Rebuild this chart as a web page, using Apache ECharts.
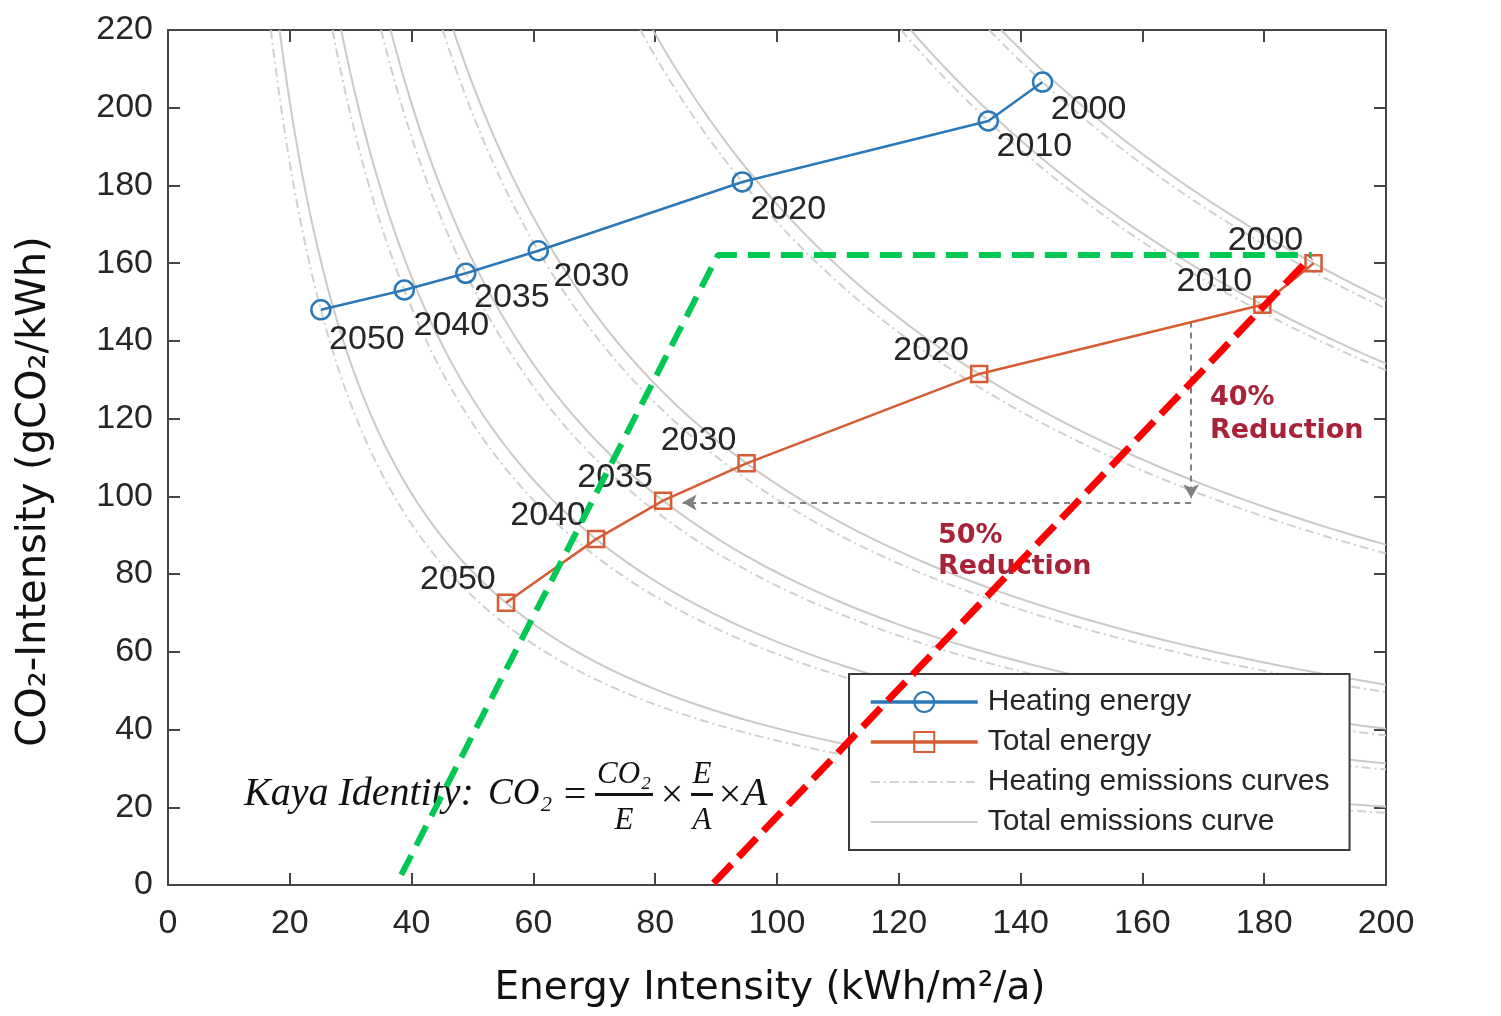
<!DOCTYPE html>
<html>
<head>
<meta charset="utf-8">
<title>Kaya identity - energy vs CO2 intensity</title>
<script src="https://cdn.jsdelivr.net/npm/echarts@6/dist/echarts.min.js"></script>
<style>
  html, body { margin: 0; padding: 0; background: #fff; }
  #chart { width: 1501px; height: 1016px; }
</style>
</head>
<body>
<div id="chart"></div>
<script>
// years written next to every point (same order for both paths)
var years = ["2000", "2010", "2020", "2030", "2035", "2040", "2050"];

// heating energy path: energy intensity (kWh/m2/a) / CO2 intensity (gCO2/kWh)
var heatingX = [143.6, 134.7, 94.3, 60.8, 48.9, 38.8, 25.1];
var heatingY = [206.6, 196.6, 180.9, 163.2, 157.4, 153.1, 148.0];

// total energy path
var totalX = [188.1, 179.7, 133.2, 95.0, 81.3, 70.3, 55.5];
var totalY = [160.0, 149.3, 131.5, 108.5, 98.9, 89.0, 72.6];

// dashed guide lines
var greenX = [38.3, 90.3, 187.8];
var greenY = [2.6, 162.1, 162.1];
var redX = [89.6, 187.6];
var redY = [0.5, 161.5];

// reduction arrows (gray dashed)
var arrowDownX = [168, 168];
var arrowDownY = [145, 99.5];
var arrowLeftX = [168, 84.5];
var arrowLeftY = [98.4, 98.4];

// axes
var xMin = 0, xMax = 200, xStep = 20;
var yMin = 0, yMax = 220, yStep = 20;

var BLUE = "#2b78b8";
var ORANGE = "#d65c33";
var TXT = "#262626";
var AXIS = "#454545";

// small per-label nudges for the heating labels (px), like the original placement
var heatingLabelNudge = [[0, 0], [0, -2], [0, 0], [7, -2], [0, -4], [1, 8], [0, 2]];

function pairs(xs, ys) {
  return xs.map(function (x, i) { return [x, ys[i]]; });
}

// emission curve: constant x*y through a given point
function isoCurve(x0, y0) {
  var c = x0 * y0;
  var start = c / yMax;
  var pts = [];
  var n = 80;
  for (var k = 0; k <= n; k++) {
    var x = start * Math.pow(xMax / start, k / n);
    pts.push([x, c / x]);
  }
  return pts;
}

var chart = echarts.init(document.getElementById("chart"));

var series = [];

// heating emissions curves (dash-dot), one through each heating point
heatingX.forEach(function (x, i) {
  series.push({
    name: "Heating emissions curves",
    type: "line",
    data: isoCurve(x, heatingY[i]),
    symbol: "none",
    silent: true,
    z: 1,
    itemStyle: { color: "rgba(0,0,0,0)", borderWidth: 0 },
    lineStyle: { color: "#d0d0d0", width: 2, type: [9, 4, 2, 4] }
  });
});

// total emissions curves (solid), one through each total point
totalX.forEach(function (x, i) {
  series.push({
    name: "Total emissions curve",
    type: "line",
    data: isoCurve(x, totalY[i]),
    symbol: "none",
    silent: true,
    z: 1,
    itemStyle: { color: "rgba(0,0,0,0)", borderWidth: 0 },
    lineStyle: { color: "#cdc9c4", width: 2 }
  });
});

var labelFont = {
  fontFamily: "Liberation Sans, Arial, sans-serif",
  fontSize: 34,
  color: TXT
};

series.push({
  name: "Heating energy",
  type: "line",
  data: pairs(heatingX, heatingY).map(function (p, i) {
    return {
      value: p,
      label: { offset: [heatingLabelNudge[i][0], 28 + heatingLabelNudge[i][1]] }
    };
  }),
  symbol: "circle",
  symbolSize: 19,
  z: 6,
  lineStyle: { color: BLUE, width: 2.5 },
  itemStyle: { color: "rgba(0,0,0,0)", borderColor: BLUE, borderWidth: 2.5 },
  label: Object.assign({
    show: true,
    position: "right",
    distance: -2.5,
    offset: [0, 28],
    formatter: function (p) { return years[p.dataIndex]; }
  }, labelFont)
});

series.push({
  name: "Total energy",
  type: "line",
  data: pairs(totalX, totalY),
  symbol: "rect",
  symbolSize: 16,
  z: 6,
  lineStyle: { color: ORANGE, width: 2.5 },
  itemStyle: { color: "rgba(0,0,0,0)", borderColor: ORANGE, borderWidth: 2.5 },
  label: Object.assign({
    show: true,
    position: "left",
    distance: 1,
    offset: [0, -23],
    formatter: function (p) { return years[p.dataIndex]; }
  }, labelFont)
});

// gray dashed arrows
series.push({
  name: "arrows",
  type: "line",
  data: [],
  silent: true,
  z: 5,
  markLine: {
    silent: true,
    symbol: ["none", "arrow"],
    symbolSize: [12, 14],
    label: { show: false },
    lineStyle: { color: "#808080", width: 2, type: [6, 5] },
    data: [
      [{ coord: [arrowDownX[0], arrowDownY[0]] }, { coord: [arrowDownX[1], arrowDownY[1]] }],
      [{ coord: [arrowLeftX[0], arrowLeftY[0]] }, { coord: [arrowLeftX[1], arrowLeftY[1]] }]
    ]
  }
});

series.push({
  name: "green",
  type: "line",
  data: pairs(greenX, greenY),
  symbol: "none",
  silent: true,
  z: 8,
  lineStyle: { color: "#00c853", width: 6, type: [22, 11] }
});

series.push({
  name: "red",
  type: "line",
  data: pairs(redX, redY),
  symbol: "none",
  silent: true,
  z: 9,
  lineStyle: { color: "#ff0000", width: 7, type: [26, 10] }
});

function axisCommon(min, max, step) {
  return {
    type: "value",
    min: min,
    max: max,
    interval: step,
    axisLine: { show: true, onZero: false, lineStyle: { color: AXIS, width: 2 } },
    axisTick: { show: true, inside: true, length: 12, lineStyle: { color: AXIS, width: 2 } },
    splitLine: { show: false }
  };
}

var xBottom = axisCommon(xMin, xMax, xStep);
xBottom.position = "bottom";
xBottom.axisLabel = { margin: 22, fontFamily: "Liberation Sans, Arial", fontSize: 34, color: TXT };
xBottom.name = "Energy Intensity (kWh/m²/a)";
xBottom.nameLocation = "middle";
xBottom.nameGap = 84;
xBottom.nameTextStyle = { fontFamily: "DejaVu Sans, sans-serif", fontSize: 39, color: "#111", padding: [0, 14, 0, 0] };

var xTop = axisCommon(xMin, xMax, xStep);
xTop.position = "top";
xTop.axisLabel = { show: false };

var yLeft = axisCommon(yMin, yMax, yStep);
yLeft.position = "left";
yLeft.axisLabel = { margin: 15, fontFamily: "Liberation Sans, Arial", fontSize: 34, color: TXT };
yLeft.name = "CO₂-Intensity (gCO₂/kWh)";
yLeft.nameLocation = "middle";
yLeft.nameRotate = 90;
yLeft.nameGap = 113;
yLeft.nameTextStyle = { fontFamily: "DejaVu Sans, sans-serif", fontSize: 40, color: "#111", padding: [0, 68, 0, 0] };

var yRight = axisCommon(yMin, yMax, yStep);
yRight.position = "right";
yRight.axisLabel = { show: false };

var serif = "italic 40px 'Liberation Serif', 'DejaVu Serif', serif";
var serifMid = "italic 37px 'Liberation Serif', 'DejaVu Serif', serif";
var serifSmall = "italic 31px 'Liberation Serif', 'DejaVu Serif', serif";
var plain = "40px 'Liberation Serif', 'DejaVu Serif', serif";
var redText = "bold 27px 'DejaVu Sans', Verdana, sans-serif";

function txt(text, x, y, font, align, fill) {
  return {
    type: "text",
    x: x,
    y: y,
    z: 3,
    silent: true,
    style: { text: text, font: font, fill: fill || "#111", align: align || "left", verticalAlign: "middle" }
  };
}

var graphics = [
  // Kaya identity formula
  txt("Kaya Identity:", 244, 794, serif),
  txt("CO₂", 488, 794, serifMid),
  txt("=", 575, 796, plain, "center"),
  txt("CO₂", 624, 775, serifSmall, "center"),
  { type: "rect", z: 3, silent: true, shape: { x: 595, y: 793, width: 58, height: 3 }, style: { fill: "#111" } },
  txt("E", 624, 821, serifSmall, "center"),
  txt("×", 672, 796, plain, "center"),
  txt("E", 702, 775, serifSmall, "center"),
  { type: "rect", z: 3, silent: true, shape: { x: 691, y: 793, width: 22, height: 3 }, style: { fill: "#111" } },
  txt("A", 702, 821, serifSmall, "center"),
  txt("×", 730, 796, plain, "center"),
  txt("A", 755, 794, serif, "center"),
  // reduction notes
  txt("40%", 1210, 398, redText, "left", "#a8233a"),
  txt("Reduction", 1210, 431, redText, "left", "#a8233a"),
  txt("50%", 938, 536, redText, "left", "#a8233a"),
  txt("Reduction", 938, 567, redText, "left", "#a8233a")
];

chart.setOption({
  animation: false,
  backgroundColor: "#fff",
  grid: { left: 168, right: 115, top: 30, bottom: 131 },
  xAxis: [xBottom, xTop],
  yAxis: [yLeft, yRight],
  legend: {
    orient: "vertical",
    left: 849,
    top: 674,
    padding: [13, 20, 13, 20],
    itemWidth: 107,
    itemHeight: 25,
    itemGap: 10,
    selectedMode: false,
    backgroundColor: "#fff",
    borderColor: "#3a3a3a",
    borderWidth: 2,
    borderRadius: 0,
    z: 4,
    textStyle: {
      fontFamily: "Liberation Sans, Arial, sans-serif",
      fontSize: 30,
      lineHeight: 30,
      color: TXT,
      padding: [0, 0, 0, 5]
    },
    data: [
      { name: "Heating energy", lineStyle: { width: 3.5 } },
      { name: "Total energy", lineStyle: { width: 3.5 } },
      { name: "Heating emissions curves", itemStyle: { opacity: 0 } },
      { name: "Total emissions curve", itemStyle: { opacity: 0 } }
    ]
  },
  graphic: graphics,
  series: series
});
</script>
</body>
</html>
